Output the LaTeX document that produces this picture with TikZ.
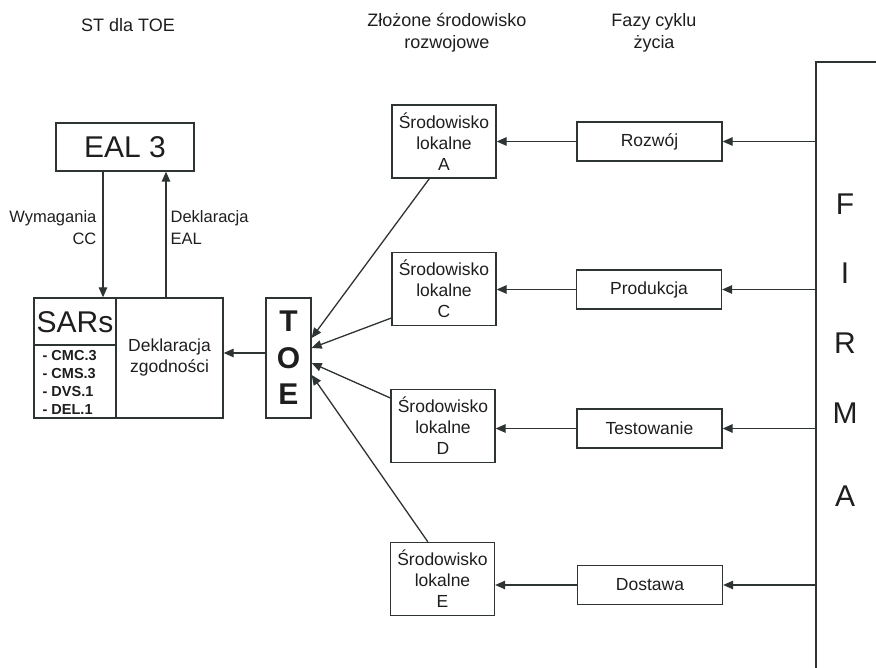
\documentclass[tikz,border=0pt]{standalone}
\usepackage{fontspec}
\setmainfont{Liberation Sans}
\usetikzlibrary{arrows.meta,calc}
\definecolor{ln}{HTML}{2E3333}
\definecolor{tx}{HTML}{1E1E1E}
\begin{document}
\begin{tikzpicture}[x=1pt,y=-1pt,
  line width=1.3pt,
  every node/.style={text=tx,inner sep=0pt},
  arr/.style={draw=ln,-{Triangle[length=10pt,width=8.5pt]}},
  ln/.style={draw=ln},
  box/.style={draw=ln,line width=1.3pt},
  nf/.style={font=\fontsize{17.5}{21}\selectfont},
  envbox/.style={box,nf,minimum width=104pt,minimum height=73pt,align=center},
  phase/.style={box,nf,minimum width=145pt,minimum height=39pt},
  big/.style={font=\fontsize{30}{36.5}\selectfont},
  title/.style={font=\fontsize{18}{22}\selectfont,align=center}]
\useasboundingbox (0,0) rectangle (876,668);

% titles
\node[title] (t1) at (128,25) {ST dla TOE};
\node[title] (t2) at (447,33) {Złożone środowisko\\rozwojowe};
\node[title] (t3) at (654,33) {Fazy cyklu\\życia};

% EAL 3
\node[box,big,minimum width=138pt,minimum height=48pt] (eal) at (125,147) {EAL 3};

% SARs box
\node[box,minimum width=189pt,minimum height=120pt] (sars) at (128.5,358) {};
\coordinate (dv) at (116,0);
\draw[ln] (sars.north -| dv) -- (sars.south -| dv);
\draw[ln] (sars.west |- 0,345) -- (dv |- 0,345);
\node[big] (sarst) at (75,322) {SARs};
\node[font=\fontsize{14.5}{18}\bfseries\selectfont,align=left,anchor=west] (list) at (42,382) {- CMC.3\\- CMS.3\\- DVS.1\\- DEL.1};
\node[nf,align=center] (dz) at (169.5,357) {Deklaracja\\zgodności};

% EAL arrows
\draw[arr] ([xshift=-22pt]eal.south) -- ([xshift=-22pt]eal.south |- sars.north);
\draw[arr] ([xshift=41pt]eal.south |- sars.north) -- ([xshift=41pt]eal.south);
\node[nf,align=right,anchor=east,font=\fontsize{16.5}{22}\selectfont] (wym) at (97,228) {Wymagania\\CC};
\node[nf,align=left,anchor=west,font=\fontsize{16.5}{22}\selectfont] (dek) at (170,228) {Deklaracja\\EAL};

% TOE
\node[box,minimum width=45pt,minimum height=120pt,align=center,font=\fontsize{30}{36.5}\bfseries\selectfont] (toe) at (288.5,358) {T\\O\\E};
\draw[arr] ([yshift=5pt]toe.west) -- ([yshift=5pt]toe.west -| sars.east);

% environments
\node[envbox] (A) at (444,141.5) {Środowisko\\lokalne\\A};
\node[envbox] (C) at (444,289) {Środowisko\\lokalne\\C};
\node[envbox] (D) at (443,426) {Środowisko\\lokalne\\D};
\node[envbox] (E) at (442.5,579) {Środowisko\\lokalne\\E};

\draw[arr] ($(A.south west)+(38,0)$) -- ([yshift=20pt]toe.east);
\draw[arr] ([yshift=-29pt]C.west) -- ([yshift=10pt]toe.east);
\draw[arr] ([yshift=28pt]D.west) -- ([yshift=-5pt]toe.east);
\draw[arr] ($(E.north west)+(38,0)$) -- ([yshift=-17pt]toe.east);

% phases
\node[phase] (roz) at (649.5,141.5) {Rozwój};
\node[phase] (pro) at (649,289.5) {Produkcja};
\node[phase] (tes) at (649.5,428.5) {Testowanie};
\node[phase] (dos) at (650,585) {Dostawa};

\draw[arr] (roz.west) -- (roz.west -| A.east);
\draw[arr] (pro.west) -- (pro.west -| C.east);
\draw[arr] (tes.west) -- (tes.west -| D.east);
\draw[arr] (dos.west) -- (dos.west -| E.east);

% FIRMA
\coordinate (fc) at (816,62);
\coordinate (fr) at (876,62);
\coordinate (fb) at (816,668);
\draw[ln] (fr) -- (fc) -- (fb);
\draw[arr] (roz.east -| fc) -- (roz.east);
\draw[arr] (pro.east -| fc) -- (pro.east);
\draw[arr] (tes.east -| fc) -- (tes.east);
\draw[arr] (dos.east -| fc) -- (dos.east);

\node[big] (f1) at (845,204) {F};
\node[big] (f2) at (845,273) {I};
\node[big] (f3) at (845,343) {R};
\node[big] (f4) at (845,413) {M};
\node[big] (f5) at (845,496) {A};
\end{tikzpicture}
\end{document}
